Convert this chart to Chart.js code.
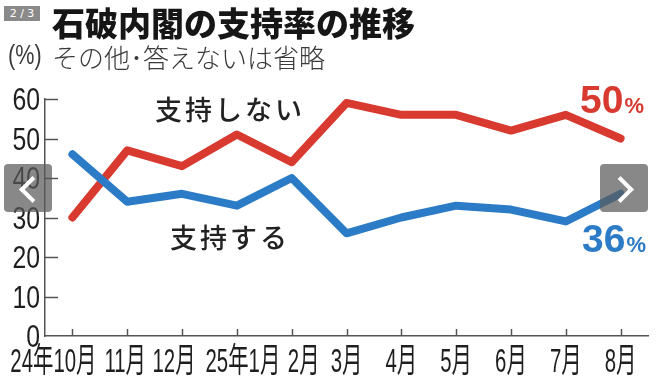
<!DOCTYPE html>
<html>
<head>
<meta charset="utf-8">
<script src="https://cdn.jsdelivr.net/npm/chart.js"></script>
<style>
  html, body { margin: 0; padding: 0; background: #fff; }
  #wrap { position: relative; width: 660px; height: 386px; overflow: hidden; }
  canvas { position: absolute; left: 0; top: 0; }
  .title { position: absolute; left: 52px; top: 0px; font: 900 33px "Noto Sans CJK JP"; color: #161616; white-space: nowrap; line-height: 44px; }
  .sub { position: absolute; left: 52px; top: 40px; font: 300 26px "Noto Sans CJK JP"; color: #3a3a3a; white-space: nowrap; line-height: 34px; }
  .unit { position: absolute; left: 8px; top: 38px; font: 27px "Liberation Sans"; color: #3a3a3a; line-height: 34px; transform: scaleX(0.8); transform-origin: left center; }
  .badge { position: absolute; left: 4px; top: 6px; width: 36px; height: 15px; background: #8a8a8a; color: #fff; font: 11px "DejaVu Sans"; text-align: center; line-height: 15px; }
  .nav { position: absolute; top: 164px; width: 48px; height: 48px; background: rgba(90,90,90,0.72); border-radius: 4px; }
  .nav::after { content: ""; position: absolute; top: 16px; width: 15px; height: 15px; border-top: 4px solid #fff; border-right: 4px solid #fff; }
  .nav.left { left: 4px; }
  .nav.left::after { left: 19px; transform: rotate(-135deg); }
  .nav.right { left: 600px; }
  .nav.right::after { left: 11px; transform: rotate(45deg); }
</style>
</head>
<body>
<div id="wrap">
  <canvas id="chart" width="660" height="386"></canvas>
  <div class="title">石破内閣の支持率の推移</div>
  <div class="unit">(%)</div>
  <div class="sub">その他･答えないは省略</div>
  <div class="badge">2 / 3</div>
  <div class="nav left"></div>
  <div class="nav right"></div>
</div>
<script>
const months = ['24年10月', '11月', '12月', '25年1月', '2月', '3月', '4月', '5月', '6月', '7月', '8月'];
const approve = [46, 34, 36, 33, 40, 26, 30, 33, 32, 29, 36];
const disapprove = [30, 47, 43, 51, 44, 59, 56, 56, 52, 56, 50];
const yTicks = [0, 10, 20, 30, 40, 50, 60];

const RED = '#d93a30';
const BLUE = '#2b7bc6';
const AXIS = '#555';
const SANS = '"Liberation Sans", "Noto Sans CJK JP"';

// the first few month labels are shuffled sideways in the original so they don't collide
const labelNudge = [-19, -2, -8, 6, 12, 0, 0, 0, 0, 0, 0];

// squeezed text, to imitate the condensed print face
function squeezed(ctx, text, x, y, sx, align) {
  ctx.save();
  ctx.translate(x, y);
  ctx.scale(sx, 1);
  ctx.textAlign = align;
  ctx.fillText(text, 0, 0);
  ctx.restore();
}

// tick marks point into the plot; tick labels drawn condensed
const axisDecor = {
  id: 'axisDecor',
  afterDraw(chart) {
    const ctx = chart.ctx;
    const x = chart.scales.x, y = chart.scales.y;
    const left = chart.chartArea.left, bottom = chart.chartArea.bottom;
    ctx.save();
    ctx.strokeStyle = AXIS;
    ctx.lineWidth = 1.5;
    yTicks.forEach(v => {
      if (v === 0) return;
      const py = Math.round(y.getPixelForValue(v)) + 0.5;
      ctx.beginPath();
      ctx.moveTo(left, py);
      ctx.lineTo(left + 13, py);
      ctx.stroke();
    });
    months.forEach((m, i) => {
      const px = Math.round(x.getPixelForValue(i)) + 0.5;
      ctx.beginPath();
      ctx.moveTo(px, bottom);
      ctx.lineTo(px, bottom - 7);
      ctx.stroke();
    });

    ctx.fillStyle = '#1e1e1e';
    ctx.textBaseline = 'alphabetic';
    ctx.font = '31px ' + SANS;
    yTicks.forEach(v => {
      squeezed(ctx, String(v), 40, y.getPixelForValue(v) + 11, 0.8, 'right');
    });
    ctx.font = '34px ' + SANS;
    months.forEach((m, i) => {
      squeezed(ctx, m, x.getPixelForValue(i) + labelNudge[i], bottom + 36, 0.6, 'center');
    });

    // series names and latest values
    ctx.textBaseline = 'middle';
    ctx.textAlign = 'left';
    ctx.fillStyle = '#222';
    ctx.font = '500 27px "Noto Sans CJK JP"';
    ctx.letterSpacing = '3px';
    ctx.fillText('支持しない', 155, y.getPixelForValue(57.2));
    ctx.fillText('支持する', 170, y.getPixelForValue(25));
    ctx.letterSpacing = '0px';

    const lastVal = (val, color, px, base) => {
      ctx.fillStyle = color;
      ctx.textBaseline = 'alphabetic';
      ctx.font = 'bold 39px "Liberation Sans"';
      const t = String(val);
      ctx.fillText(t, px, base);
      const w = ctx.measureText(t).width;
      ctx.font = 'bold 22px "Liberation Sans"';
      ctx.fillText('%', px + w + 1, base);
    };
    lastVal(disapprove[disapprove.length - 1], RED, 580, 113);
    lastVal(approve[approve.length - 1], BLUE, 582, 252);
    ctx.restore();
  }
};

new Chart(document.getElementById('chart'), {
  type: 'line',
  data: {
    labels: months,
    datasets: [
      { label: '支持する', data: approve, borderColor: BLUE },
      { label: '支持しない', data: disapprove, borderColor: RED }
    ]
  },
  options: {
    responsive: false,
    animation: false,
    layout: { padding: { top: 99, right: 12, left: 0, bottom: 0 } },
    elements: {
      line: { borderWidth: 8, tension: 0, borderCapStyle: 'round', borderJoinStyle: 'round' },
      point: { radius: 0 }
    },
    plugins: { legend: { display: false }, tooltip: { enabled: false } },
    scales: {
      x: {
        offset: true,
        grid: { display: false, drawTicks: false },
        border: { color: AXIS, width: 1.5 },
        ticks: { display: false },
        afterFit: s => { s.height = 50; }
      },
      y: {
        min: 0,
        max: 60,
        afterBuildTicks: s => { s.ticks = yTicks.map(v => ({ value: v })); },
        grid: { display: false, drawTicks: false },
        border: { color: AXIS, width: 1.5 },
        ticks: { display: false },
        afterFit: s => { s.width = 45; }
      }
    }
  },
  plugins: [axisDecor]
});
</script>
</body>
</html>
